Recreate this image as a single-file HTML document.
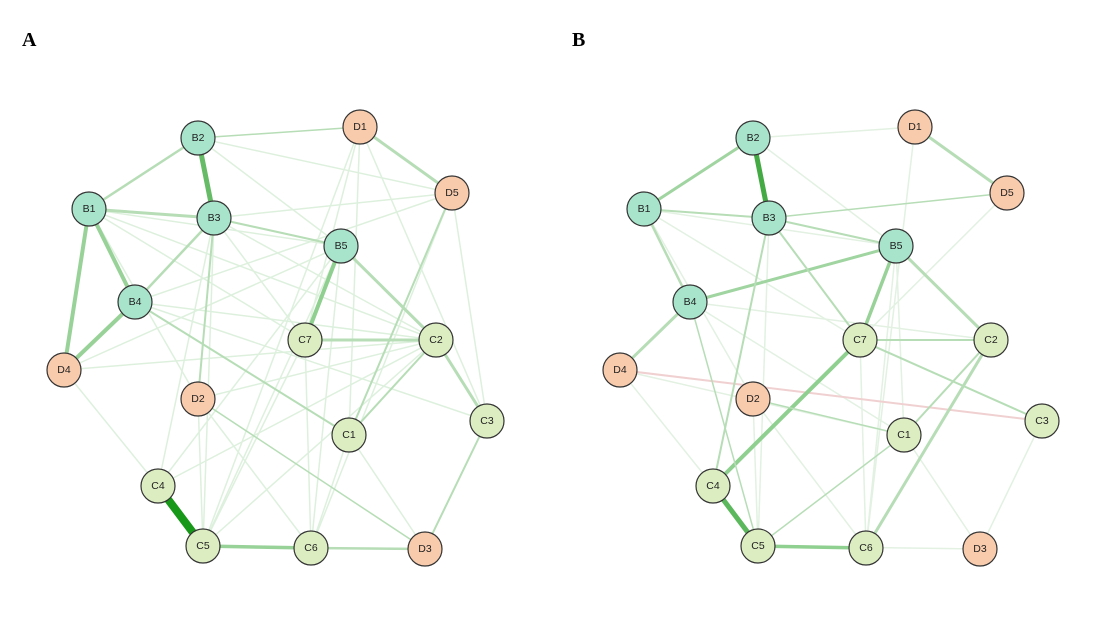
<!DOCTYPE html>
<html><head><meta charset="utf-8"><style>
body{margin:0;background:#fff;width:1104px;height:621px;overflow:hidden}
svg{display:block}
.n circle{stroke:#333;stroke-width:1.2}
.n text{font-family:"Liberation Sans",sans-serif;font-size:10.5px;text-anchor:middle;dominant-baseline:central;fill:#222}
.t{fill:#a8e4cc}.g{fill:#dcedc1}.p{fill:#f9cbad}
</style></head><body>
<svg width="1104" height="621" viewBox="0 0 1104 621">
<text x="22" y="46" font-family="Liberation Serif,serif" font-weight="bold" font-size="20">A</text>
<text x="572" y="46" font-family="Liberation Serif,serif" font-weight="bold" font-size="20">B</text>
<!-- Panel A edges -->
<g stroke="#d8eed8" stroke-width="1.5" opacity="0.85">
<line x1="198" y1="138" x2="341" y2="246"/>
<line x1="214" y1="218" x2="452" y2="193"/><line x1="214" y1="218" x2="305" y2="340"/>
<line x1="360" y1="127" x2="305" y2="340"/><line x1="360" y1="127" x2="349" y2="435"/>
<line x1="360" y1="127" x2="487" y2="421"/><line x1="360" y1="127" x2="203" y2="546"/>
<line x1="452" y1="193" x2="135" y2="302"/><line x1="452" y1="193" x2="311" y2="548"/>
<line x1="89" y1="209" x2="436" y2="340"/><line x1="89" y1="209" x2="198" y2="399"/>
<line x1="135" y1="302" x2="487" y2="421"/><line x1="198" y1="399" x2="436" y2="340"/>
<line x1="198" y1="399" x2="311" y2="548"/><line x1="305" y1="340" x2="311" y2="548"/>
<line x1="305" y1="340" x2="203" y2="546"/><line x1="341" y1="246" x2="203" y2="546"/>
<line x1="436" y1="340" x2="203" y2="546"/><line x1="349" y1="435" x2="311" y2="548"/>
<line x1="158" y1="486" x2="436" y2="340"/><line x1="214" y1="218" x2="203" y2="546"/>
<line x1="64" y1="370" x2="341" y2="246"/><line x1="158" y1="486" x2="341" y2="246"/>
<line x1="349" y1="435" x2="425" y2="549"/><line x1="64" y1="370" x2="158" y2="486"/>
<line x1="89" y1="209" x2="305" y2="340"/><line x1="487" y1="421" x2="452" y2="193"/>
<line x1="198" y1="138" x2="452" y2="193"/><line x1="89" y1="209" x2="341" y2="246"/>
<line x1="135" y1="302" x2="436" y2="340"/><line x1="214" y1="218" x2="436" y2="340"/>
<line x1="64" y1="370" x2="436" y2="340"/><line x1="198" y1="399" x2="203" y2="546"/>
<line x1="158" y1="486" x2="214" y2="218"/><line x1="341" y1="246" x2="311" y2="548"/>
</g>
<g stroke="#b6ddb6" stroke-linecap="round">
<line x1="198" y1="138" x2="89" y2="209" stroke-width="2.5"/>
<line x1="89" y1="209" x2="214" y2="218" stroke-width="3"/>
<line x1="89" y1="209" x2="135" y2="302" stroke-width="4" stroke="#98d298"/>
<line x1="89" y1="209" x2="64" y2="370" stroke-width="4" stroke="#98d298"/>
<line x1="135" y1="302" x2="64" y2="370" stroke-width="4" stroke="#98d298"/>
<line x1="214" y1="218" x2="135" y2="302" stroke-width="2.5"/>
<line x1="214" y1="218" x2="341" y2="246" stroke-width="2"/>
<line x1="214" y1="218" x2="198" y2="399" stroke-width="2"/>
<line x1="198" y1="138" x2="360" y2="127" stroke-width="1.5"/>
<line x1="360" y1="127" x2="452" y2="193" stroke-width="3"/>
<line x1="341" y1="246" x2="305" y2="340" stroke-width="4" stroke="#8fcf8f"/>
<line x1="341" y1="246" x2="436" y2="340" stroke-width="3"/>
<line x1="305" y1="340" x2="436" y2="340" stroke-width="3"/>
<line x1="436" y1="340" x2="487" y2="421" stroke-width="3"/>
<line x1="436" y1="340" x2="349" y2="435" stroke-width="2"/>
<line x1="135" y1="302" x2="349" y2="435" stroke-width="2"/>
<line x1="203" y1="546" x2="311" y2="548" stroke-width="3.5" stroke="#98d298"/>
<line x1="311" y1="548" x2="425" y2="549" stroke-width="2.5"/>
<line x1="425" y1="549" x2="487" y2="421" stroke-width="2"/>
<line x1="452" y1="193" x2="349" y2="435" stroke-width="2"/>
<line x1="198" y1="399" x2="425" y2="549" stroke-width="1.5"/>
<line x1="198" y1="138" x2="214" y2="218" stroke-width="5" stroke="#66bb66"/>
<line x1="158" y1="486" x2="203" y2="546" stroke-width="8" stroke="#189818"/>
</g>
<!-- Panel B edges -->
<g stroke="#deefde" stroke-width="1.5" opacity="0.85">
<line x1="753" y1="138" x2="915" y2="127"/><line x1="753" y1="138" x2="896" y2="246"/>
<line x1="915" y1="127" x2="866" y2="548"/><line x1="644" y1="209" x2="753" y2="399"/>
<line x1="690" y1="302" x2="904" y2="435"/><line x1="753" y1="399" x2="866" y2="548"/>
<line x1="860" y1="340" x2="866" y2="548"/><line x1="896" y1="246" x2="904" y2="435"/>
<line x1="1007" y1="193" x2="713" y2="486"/><line x1="620" y1="370" x2="713" y2="486"/>
<line x1="758" y1="546" x2="980" y2="549"/><line x1="904" y1="435" x2="980" y2="549"/>
<line x1="1042" y1="421" x2="980" y2="549"/><line x1="644" y1="209" x2="896" y2="246"/>
<line x1="620" y1="370" x2="904" y2="435"/><line x1="769" y1="218" x2="758" y2="546"/>
<line x1="644" y1="209" x2="860" y2="340"/><line x1="753" y1="399" x2="758" y2="546"/>
<line x1="896" y1="246" x2="866" y2="548"/><line x1="690" y1="302" x2="991" y2="340"/>
</g>
<g stroke="#b6ddb6" stroke-linecap="round">
<line x1="620" y1="370" x2="1042" y2="421" stroke="#f0d0d0" stroke-width="2"/>
<line x1="753" y1="138" x2="644" y2="209" stroke-width="3" stroke="#a0d4a0"/>
<line x1="644" y1="209" x2="769" y2="218" stroke-width="2"/>
<line x1="644" y1="209" x2="690" y2="302" stroke-width="2.5"/>
<line x1="690" y1="302" x2="620" y2="370" stroke-width="3"/>
<line x1="690" y1="302" x2="896" y2="246" stroke-width="3" stroke="#a0d4a0"/>
<line x1="769" y1="218" x2="896" y2="246" stroke-width="2"/>
<line x1="769" y1="218" x2="1007" y2="193" stroke-width="1.5"/>
<line x1="769" y1="218" x2="860" y2="340" stroke-width="2"/>
<line x1="769" y1="218" x2="713" y2="486" stroke-width="2"/>
<line x1="915" y1="127" x2="1007" y2="193" stroke-width="3"/>
<line x1="896" y1="246" x2="860" y2="340" stroke-width="3.5" stroke="#98d298"/>
<line x1="896" y1="246" x2="991" y2="340" stroke-width="3"/>
<line x1="860" y1="340" x2="991" y2="340" stroke-width="2"/>
<line x1="860" y1="340" x2="1042" y2="421" stroke-width="2"/>
<line x1="860" y1="340" x2="713" y2="486" stroke-width="4" stroke="#8fcf8f"/>
<line x1="991" y1="340" x2="904" y2="435" stroke-width="2"/>
<line x1="991" y1="340" x2="866" y2="548" stroke-width="3"/>
<line x1="690" y1="302" x2="758" y2="546" stroke-width="1.5"/>
<line x1="753" y1="399" x2="904" y2="435" stroke-width="1.5"/>
<line x1="758" y1="546" x2="866" y2="548" stroke-width="3.5" stroke="#8fcf8f"/>
<line x1="758" y1="546" x2="904" y2="435" stroke-width="1.5"/>
<line x1="713" y1="486" x2="758" y2="546" stroke-width="5" stroke="#5cb85c"/>
<line x1="753" y1="138" x2="769" y2="218" stroke-width="5" stroke="#44aa44"/>
</g>
<g class="n">
<g><circle class="t" cx="198" cy="138" r="17"/><text x="198" y="138">B2</text></g>
<g><circle class="p" cx="360" cy="127" r="17"/><text x="360" y="127">D1</text></g>
<g><circle class="p" cx="452" cy="193" r="17"/><text x="452" y="193">D5</text></g>
<g><circle class="t" cx="89" cy="209" r="17"/><text x="89" y="209">B1</text></g>
<g><circle class="t" cx="214" cy="218" r="17"/><text x="214" y="218">B3</text></g>
<g><circle class="t" cx="341" cy="246" r="17"/><text x="341" y="246">B5</text></g>
<g><circle class="t" cx="135" cy="302" r="17"/><text x="135" y="302">B4</text></g>
<g><circle class="g" cx="305" cy="340" r="17"/><text x="305" y="340">C7</text></g>
<g><circle class="g" cx="436" cy="340" r="17"/><text x="436" y="340">C2</text></g>
<g><circle class="p" cx="64" cy="370" r="17"/><text x="64" y="370">D4</text></g>
<g><circle class="p" cx="198" cy="399" r="17"/><text x="198" y="399">D2</text></g>
<g><circle class="g" cx="349" cy="435" r="17"/><text x="349" y="435">C1</text></g>
<g><circle class="g" cx="487" cy="421" r="17"/><text x="487" y="421">C3</text></g>
<g><circle class="g" cx="158" cy="486" r="17"/><text x="158" y="486">C4</text></g>
<g><circle class="g" cx="203" cy="546" r="17"/><text x="203" y="546">C5</text></g>
<g><circle class="g" cx="311" cy="548" r="17"/><text x="311" y="548">C6</text></g>
<g><circle class="p" cx="425" cy="549" r="17"/><text x="425" y="549">D3</text></g>

<g><circle class="t" cx="753" cy="138" r="17"/><text x="753" y="138">B2</text></g>
<g><circle class="p" cx="915" cy="127" r="17"/><text x="915" y="127">D1</text></g>
<g><circle class="p" cx="1007" cy="193" r="17"/><text x="1007" y="193">D5</text></g>
<g><circle class="t" cx="644" cy="209" r="17"/><text x="644" y="209">B1</text></g>
<g><circle class="t" cx="769" cy="218" r="17"/><text x="769" y="218">B3</text></g>
<g><circle class="t" cx="896" cy="246" r="17"/><text x="896" y="246">B5</text></g>
<g><circle class="t" cx="690" cy="302" r="17"/><text x="690" y="302">B4</text></g>
<g><circle class="g" cx="860" cy="340" r="17"/><text x="860" y="340">C7</text></g>
<g><circle class="g" cx="991" cy="340" r="17"/><text x="991" y="340">C2</text></g>
<g><circle class="p" cx="620" cy="370" r="17"/><text x="620" y="370">D4</text></g>
<g><circle class="p" cx="753" cy="399" r="17"/><text x="753" y="399">D2</text></g>
<g><circle class="g" cx="904" cy="435" r="17"/><text x="904" y="435">C1</text></g>
<g><circle class="g" cx="1042" cy="421" r="17"/><text x="1042" y="421">C3</text></g>
<g><circle class="g" cx="713" cy="486" r="17"/><text x="713" y="486">C4</text></g>
<g><circle class="g" cx="758" cy="546" r="17"/><text x="758" y="546">C5</text></g>
<g><circle class="g" cx="866" cy="548" r="17"/><text x="866" y="548">C6</text></g>
<g><circle class="p" cx="980" cy="549" r="17"/><text x="980" y="549">D3</text></g>
</g>
</svg>
</body></html>
